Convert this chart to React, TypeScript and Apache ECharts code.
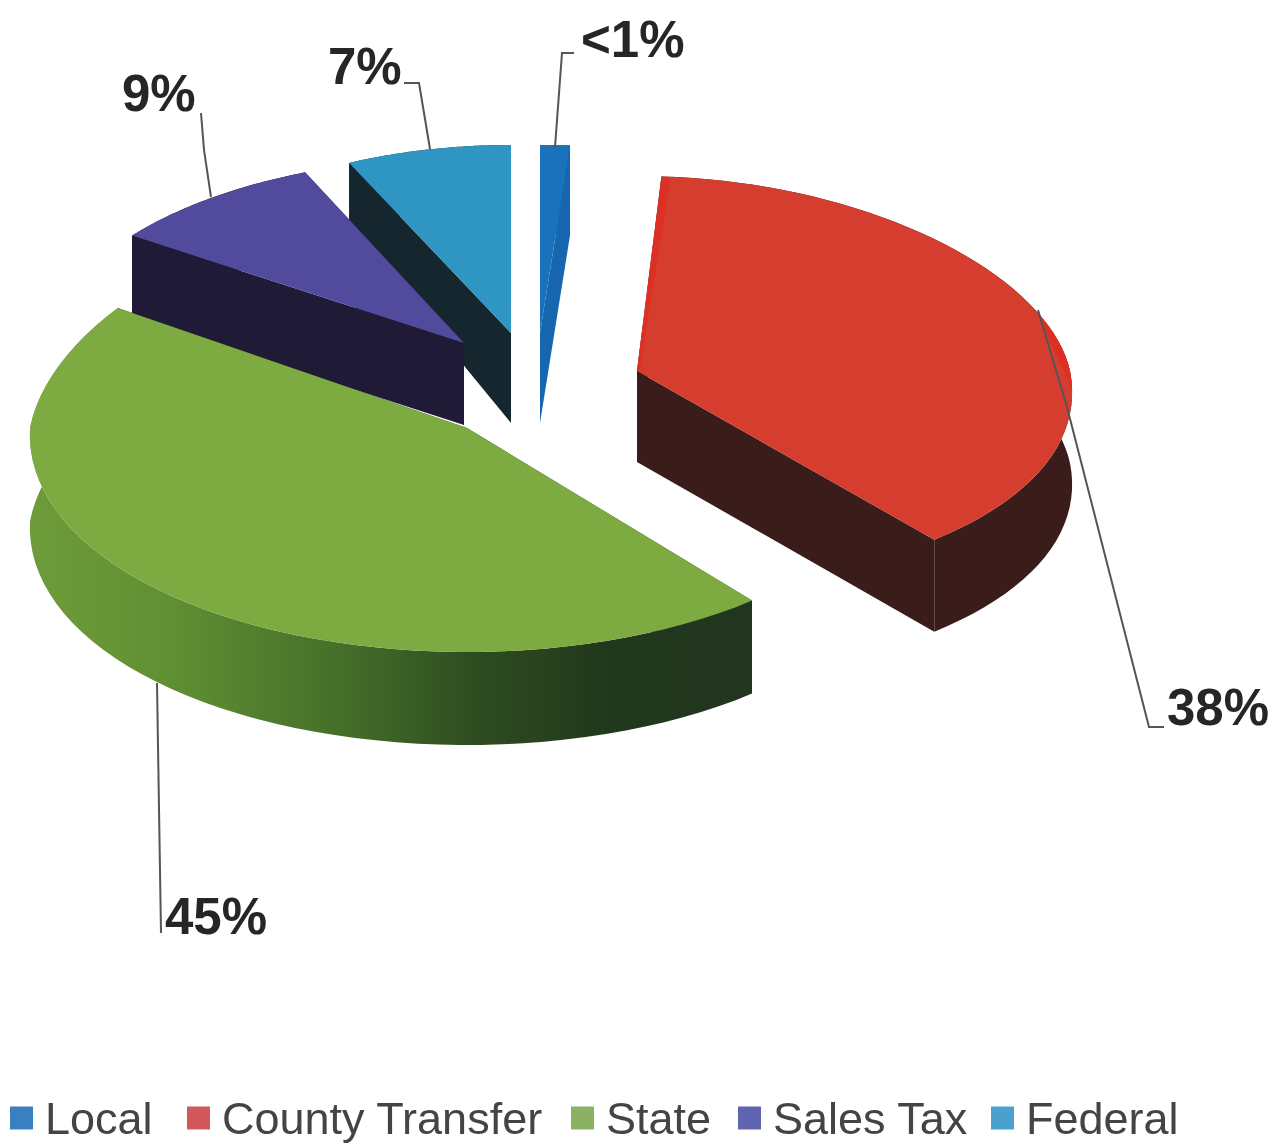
import React, { useEffect, useRef } from "react";
import * as echarts from "echarts";

const categories = ["Local", "County Transfer", "State", "Sales Tax", "Federal"];
const values = [1, 38, 45, 9, 7];
const pctLabels = ["<1%", "38%", "45%", "9%", "7%"];
const legendColors = ["#3a80c0", "#d2585a", "#8ab262", "#5e64ae", "#4aa0cf"];
const topColors = ["#1b72bc", "#d53e2e", "#7dab42", "#524a9c", "#2f96c4"];
const drawOrder = [4, 3, 2, 1, 0];
const legendLefts = [10, 187, 571, 738, 991];

type Geo = {
  cx: number; cy: number; rx: number; kUp: number; kDown: number; qUp: number; ryUp: number; ryDown: number;
  depthC: number; depthO: number; side: any; startFace: string; endFace: string;
  leader: number[][]; labelX: number; labelY: number; accent?: string;
};

const stateSide = {
  type: "linear", x: 30, y: 0, x2: 752, y2: 0, global: true,
  colorStops: [
    { offset: 0, color: "#6f9c3a" },
    { offset: 0.2, color: "#5f8f33" },
    { offset: 0.42, color: "#46702a" },
    { offset: 0.62, color: "#2e4c20" },
    { offset: 0.8, color: "#21381c" },
    { offset: 1, color: "#22361f" },
  ],
};

const geometry: Geo[] = [
  { cx: 540, cy: 333, rx: 478, kUp: 0, kDown: 0, qUp: 0, ryUp: 188, ryDown: 188, depthC: 90, depthO: 90, side: "#1566ae", startFace: "#1566ae", endFace: "#1666b0",
    leader: [[574, 53], [562, 53], [555, 147]], labelX: 581, labelY: 39 },
  { cx: 637, cy: 371, rx: 433, kUp: 0.1, kDown: 0.1, qUp: 0, ryUp: 195, ryDown: 219, depthC: 91, depthO: 92, side: "#3a1c1a", startFace: "#3a1c1a", endFace: "#3a1c1a",
    leader: [[1038, 310], [1067, 407], [1149, 727], [1164, 727]], labelX: 1167, labelY: 707, accent: "#dc3024" },
  { cx: 467, cy: 428, rx: 437, kUp: 0.1, kDown: 0.03, qUp: 0, ryUp: 224, ryDown: 224, depthC: 92, depthO: 93, side: stateSide, startFace: "#22361f", endFace: "#22361f",
    leader: [[157, 683], [161, 933]], labelX: 165, labelY: 916 },
  { cx: 464, cy: 343, rx: 422, kUp: 0.128, kDown: 0, qUp: 0.149, ryUp: 218, ryDown: 218, depthC: 82, depthO: 82, side: "#1f1a36", startFace: "#1f1a36", endFace: "#1f1a36",
    leader: [[201, 113], [204, 150], [211, 197]], labelX: 122, labelY: 93 },
  { cx: 511, cy: 333, rx: 380, kUp: 0, kDown: 0, qUp: 0, ryUp: 188, ryDown: 188, depthC: 90, depthO: 63, side: "#16262e", startFace: "#16262e", endFace: "#16262e",
    leader: [[404, 83], [419, 83], [430, 149]], labelX: 328, labelY: 66 },
];

const total = values.reduce((a, b) => a + b, 0);
const starts = values.map((_, i) => values.slice(0, i).reduce((a, b) => a + b, 0));

function point(g: Geo, theta: number) {
  const s = Math.sin(theta);
  const c = Math.cos(theta);
  const k = c >= 0 ? g.kUp : g.kDown;
  const yy = c >= 0 ? g.ryUp * c * (1 - g.qUp * c) : g.ryDown * c;
  return [g.cx + g.rx * s * (1 - k * c), g.cy - yy];
}

function renderSlice(params: any, api: any) {
  const idx = params.seriesIndex;
  const i = drawOrder[idx];
  const g = geometry[i];
  const a0 = (api.value(0) / total) * Math.PI * 2;
  const a1 = ((api.value(0) + api.value(1)) / total) * Math.PI * 2;
  const n = 60;
  const arc: number[][] = [];
  for (let j = 0; j <= n; j++) arc.push(point(g, a0 + ((a1 - a0) * j) / n));
  const down = (p: number[], d: number) => [p[0], p[1] + d];
  const apex = [g.cx, g.cy];
  const first = arc[0];
  const last = arc[n];
  const poly = (points: number[][], fill: any) => ({
    type: "polygon",
    shape: { points },
    style: { fill, stroke: "none" },
  });
  const children: any[] = [
    poly([apex, first, down(first, g.depthO), down(apex, g.depthC)], g.startFace),
    poly([apex, last, down(last, g.depthO), down(apex, g.depthC)], g.endFace),
    poly([...arc, ...arc.slice().reverse().map((p) => down(p, g.depthO))], g.side),
    poly([apex, ...arc], topColors[i]),
  ];
  if (g.accent) {
    // bright rim the scan shows along the cut edge and the right of the arc
    children.push(poly([apex, first, [first[0] + 9, first[1] + 2], [apex[0] + 3, apex[1] - 2]], g.accent));
    const rim = arc.filter((_, j) => {
      const t = a0 + ((a1 - a0) * j) / n;
      return t > 1.24 && t < 1.66;
    });
    children.push(poly(rim, g.accent));
  }
  children.push(
    {
      type: "polyline",
      shape: { points: g.leader },
      style: { stroke: "#555555", lineWidth: 2, fill: "none" },
    },
    {
      type: "text",
      style: {
        text: pctLabels[i],
        x: g.labelX,
        y: g.labelY,
        align: "left",
        verticalAlign: "middle",
        fontFamily: "Liberation Sans",
        fontWeight: "bold",
        fontSize: 51,
        fill: "#262626",
      },
    }
  );
  return { type: "group", children };
}

export default function App() {
  const ref = useRef<HTMLDivElement>(null);
  useEffect(() => {
    document.body.style.margin = "0";
    const chart = echarts.init(ref.current!, undefined, { renderer: "svg" });
    chart.setOption({
      animation: false,
      backgroundColor: "#ffffff",
      legend: categories.map((name, i) => ({
        orient: "horizontal",
        top: 1095,
        left: legendLefts[i],
        padding: 0,
        icon: "rect",
        itemWidth: 23,
        itemHeight: 23,
        selectedMode: false,
        data: [name],
        textStyle: { fontFamily: "Liberation Sans", fontSize: 45, lineHeight: 46, color: "#444444", padding: [0, 0, 0, 7] },
      })),
      series: drawOrder.map((i) => ({
        type: "custom",
        name: categories[i],
        coordinateSystem: "none",
        silent: true,
        itemStyle: { color: legendColors[i] },
        renderItem: renderSlice,
        data: [[starts[i], values[i]]],
      })),
    });
    return () => chart.dispose();
  }, []);
  return (
    <div
      ref={ref}
      style={{ position: "fixed", left: 0, top: 0, width: 1279, height: 1144, filter: "blur(0.6px)" }}
    />
  );
}
